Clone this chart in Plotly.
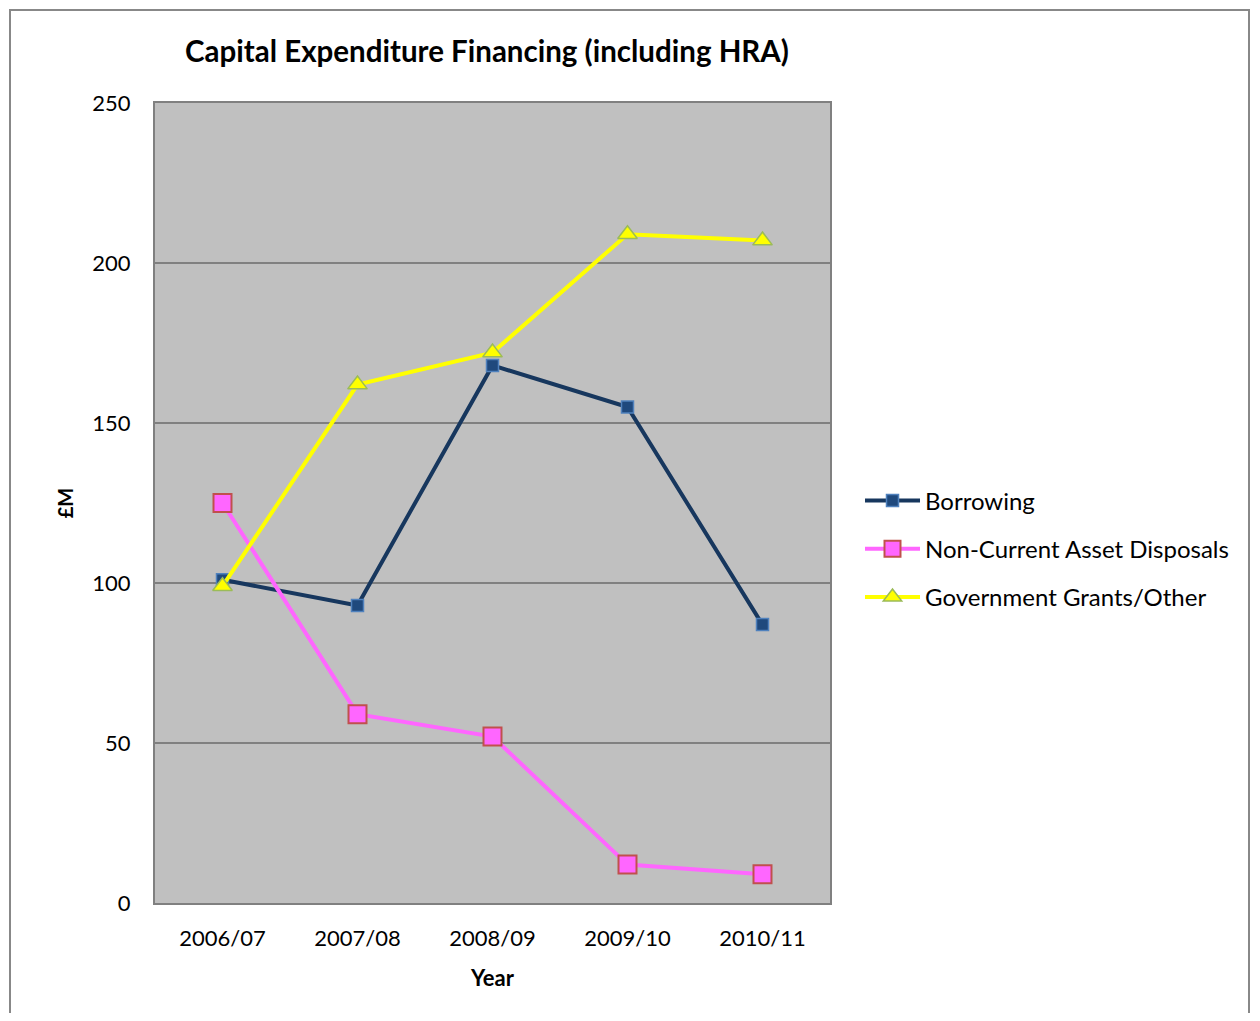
import plotly.graph_objects as go

years = ["2006/07", "2007/08", "2008/09", "2009/10", "2010/11"]
borrowing = [101, 93, 168, 155, 87]
disposals = [125, 59, 52, 12, 9]
grants = [99, 162, 172, 209, 207]

FONT = "Lato, 'Open Sans', sans-serif"

fig = go.Figure()
fig.add_trace(go.Scatter(
    x=years, y=borrowing, name="Borrowing", mode="lines+markers", legendgroup="a",
    line=dict(color="#17375E", width=4),
    marker=dict(symbol="square", size=12, color="#1F497D", line=dict(color="#4F81BD", width=1.5)),
))
fig.add_trace(go.Scatter(
    x=years, y=disposals, name="Non-Current Asset Disposals", mode="lines+markers", legendgroup="b",
    line=dict(color="#FF66FF", width=4),
    marker=dict(symbol="square", size=18, color="#FF66FF", line=dict(color="#C0504D", width=2)),
))
fig.add_trace(go.Scatter(
    x=years, y=grants, name="Government Grants/Other", mode="lines+markers", legendgroup="c",
    line=dict(color="#FFFF00", width=4),
    marker=dict(symbol="triangle-up", size=17, color="#FFFF00", line=dict(color="#9BBB59", width=1.5)),
))

W, H = 1252, 1005
fig.update_layout(
    width=W, height=H,
    margin=dict(l=147, r=430, t=95, b=110),
    paper_bgcolor="white", plot_bgcolor="#C0C0C0",
    font=dict(family=FONT, size=22, color="black"),
    title=dict(text="<b>Capital Expenditure Financing (including HRA)</b>",
               x=(487 - 8) / W, xanchor="center", y=1 - (52 - 8) / H, yanchor="middle",
               font=dict(size=29.5, family=FONT)),
    xaxis=dict(type="category", range=[-0.5, 4.5], showgrid=False,
               showline=True, linecolor="#808080", linewidth=2, mirror=True,
               ticks="", tickfont=dict(size=22), ticklabelstandoff=15,
               title=dict(text="<b>Year</b>", font=dict(size=22), standoff=20)),
    yaxis=dict(range=[0, 250], dtick=50, showgrid=True, gridcolor="#808080", gridwidth=1.5,
               showline=True, linecolor="#808080", linewidth=2, mirror=True,
               ticks="", tickfont=dict(size=22), ticklabelstandoff=18, zeroline=False,
               title=dict(text="<b>£M</b>", font=dict(size=20), standoff=13)),
    legend=dict(x=(860 - 155) / 675, y=(903 - 549) / 800, xanchor="left", yanchor="middle",
                font=dict(size=24), tracegroupgap=14, itemwidth=55,
                bgcolor="rgba(0,0,0,0)"),
    showlegend=True,
)

fig.add_shape(type="rect", xref="paper", yref="paper",
              x0=(10 - 155) / 675, x1=(1249 - 155) / 675,
              y0=(903 - 1030) / 800, y1=1 + (103 - 10) / 800,
              line=dict(color="#888888", width=2), fillcolor="rgba(0,0,0,0)", layer="below")

fig.write_html("out.html")
